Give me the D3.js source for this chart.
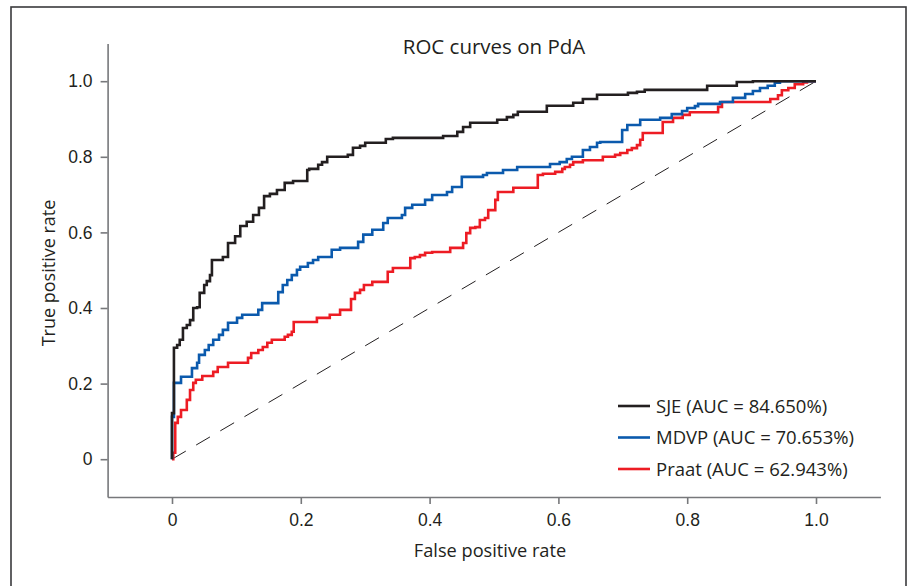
<!DOCTYPE html>
<html>
<head>
<meta charset="utf-8">
<script src="https://cdn.jsdelivr.net/npm/d3@7"></script>
<style>
  body { margin: 0; background: #fff; }
  svg { display: block; font-family: "Open Sans", "Noto Sans", sans-serif; }
  .axis path, .axis line { stroke: #77787b; stroke-width: 1.6px; }
  .axis text { fill: #231f20; font-size: 17.5px; }
</style>
</head>
<body>
<svg id="chart" width="909" height="586"></svg>
<script>
// ROC points [false positive rate, true positive rate]
var sjePoints = [
  [0, 0], [0, 0.122], [0.003, 0.295], [0.008, 0.302], [0.012, 0.316], [0.017, 0.347],
  [0.023, 0.355], [0.028, 0.368], [0.033, 0.400], [0.039, 0.402], [0.043, 0.440],
  [0.050, 0.461], [0.054, 0.471], [0.059, 0.487], [0.062, 0.527], [0.079, 0.535],
  [0.087, 0.572], [0.098, 0.590], [0.106, 0.617], [0.116, 0.628], [0.126, 0.646],
  [0.135, 0.665], [0.143, 0.696], [0.152, 0.702], [0.163, 0.712], [0.175, 0.731],
  [0.188, 0.736], [0.210, 0.765], [0.213, 0.768], [0.227, 0.779], [0.233, 0.786],
  [0.241, 0.800], [0.273, 0.805], [0.281, 0.824], [0.292, 0.829], [0.300, 0.837],
  [0.332, 0.847], [0.343, 0.850], [0.421, 0.855], [0.443, 0.866], [0.452, 0.879],
  [0.463, 0.890], [0.505, 0.898], [0.520, 0.905], [0.530, 0.911], [0.537, 0.919],
  [0.582, 0.935], [0.623, 0.943], [0.638, 0.953], [0.660, 0.964], [0.708, 0.969],
  [0.722, 0.972], [0.734, 0.977], [0.831, 0.988], [0.877, 0.998], [0.902, 1], [1, 1]
];

var mdvpPoints = [
  [0, 0], [0, 0.112], [0.003, 0.202], [0.014, 0.218], [0.031, 0.241], [0.039, 0.255],
  [0.042, 0.276], [0.051, 0.289], [0.057, 0.302], [0.064, 0.316], [0.073, 0.329],
  [0.079, 0.342], [0.087, 0.361], [0.101, 0.374], [0.109, 0.382], [0.134, 0.395],
  [0.140, 0.413], [0.165, 0.442], [0.172, 0.461], [0.179, 0.474], [0.186, 0.487],
  [0.194, 0.501], [0.199, 0.509], [0.211, 0.519], [0.219, 0.527], [0.227, 0.535],
  [0.248, 0.554], [0.261, 0.559], [0.289, 0.575], [0.297, 0.594], [0.311, 0.607],
  [0.328, 0.625], [0.335, 0.638], [0.357, 0.646], [0.362, 0.665], [0.373, 0.673],
  [0.393, 0.686], [0.404, 0.699], [0.427, 0.707], [0.435, 0.720], [0.450, 0.747],
  [0.483, 0.752], [0.489, 0.757], [0.514, 0.765], [0.536, 0.773], [0.587, 0.781],
  [0.602, 0.786], [0.613, 0.794], [0.621, 0.800], [0.638, 0.818], [0.649, 0.826],
  [0.660, 0.837], [0.665, 0.839], [0.699, 0.871], [0.707, 0.884], [0.727, 0.898],
  [0.758, 0.903], [0.776, 0.913], [0.792, 0.921], [0.800, 0.929], [0.812, 0.934],
  [0.817, 0.940], [0.851, 0.945], [0.871, 0.956], [0.890, 0.966], [0.902, 0.974],
  [0.913, 0.982], [0.925, 0.988], [0.936, 0.996], [0.944, 1], [1, 1]
];

var praatPoints = [
  [0, 0], [0.002, 0.017], [0.005, 0.096], [0.009, 0.112], [0.014, 0.130], [0.023, 0.157],
  [0.028, 0.183], [0.033, 0.202], [0.037, 0.210], [0.047, 0.220], [0.064, 0.231],
  [0.071, 0.244], [0.087, 0.255], [0.118, 0.268], [0.123, 0.281], [0.134, 0.289],
  [0.141, 0.297], [0.148, 0.308], [0.155, 0.316], [0.175, 0.324], [0.180, 0.329],
  [0.186, 0.337], [0.189, 0.363], [0.225, 0.374], [0.245, 0.382], [0.261, 0.395],
  [0.278, 0.424], [0.284, 0.440], [0.292, 0.448], [0.298, 0.461], [0.311, 0.469],
  [0.335, 0.496], [0.343, 0.506], [0.370, 0.532], [0.377, 0.535], [0.385, 0.540],
  [0.393, 0.546], [0.404, 0.548], [0.432, 0.559], [0.452, 0.572], [0.457, 0.598],
  [0.463, 0.612], [0.471, 0.614], [0.478, 0.633], [0.486, 0.638], [0.491, 0.659],
  [0.502, 0.686], [0.506, 0.707], [0.530, 0.718], [0.568, 0.752], [0.576, 0.755],
  [0.595, 0.760], [0.606, 0.768], [0.610, 0.773], [0.618, 0.779], [0.623, 0.786],
  [0.638, 0.791], [0.669, 0.800], [0.688, 0.805], [0.696, 0.810], [0.707, 0.818],
  [0.714, 0.823], [0.722, 0.831], [0.727, 0.845], [0.731, 0.863], [0.762, 0.892],
  [0.778, 0.903], [0.793, 0.911], [0.804, 0.918], [0.848, 0.932], [0.854, 0.945],
  [0.929, 0.953], [0.941, 0.963], [0.947, 0.976], [0.957, 0.982], [0.967, 0.992],
  [0.980, 0.997], [0.986, 1], [1, 1]
];

var chanceLine = [[0, 0], [1, 1]];

var seriesNames = ['SJE', 'MDVP', 'Praat'];
var seriesAuc = ['84.650%', '70.653%', '62.943%'];
var seriesColors = ['#231f20', '#0b5aad', '#ed1c24'];
var tickValues = [0, 0.2, 0.4, 0.6, 0.8, 1.0];
var tickLabels = ['0', '0.2', '0.4', '0.6', '0.8', '1.0'];

var svg = d3.select('#chart');

// outer frame, its bottom edge runs off the picture
svg.append('rect')
  .attr('x', 11).attr('y', 7)
  .attr('width', 895).attr('height', 600)
  .attr('fill', 'none')
  .attr('stroke', '#3a3a3c')
  .attr('stroke-width', 1.6);

var x = d3.scaleLinear().domain([-0.1, 1.1]).range([107.6, 880.4]);
var y = d3.scaleLinear().domain([-0.1, 1.1]).range([497, 43.4]);

var fmt = function(d) { return tickLabels[tickValues.indexOf(d)]; };

svg.append('g')
  .attr('class', 'axis')
  .attr('transform', 'translate(0,497)')
  .call(d3.axisBottom(x).tickValues(tickValues).tickFormat(fmt).tickSize(7).tickSizeOuter(0).tickPadding(10));

svg.append('g')
  .attr('class', 'axis')
  .attr('transform', 'translate(107.6,0)')
  .call(d3.axisLeft(y).tickValues(tickValues).tickFormat(fmt).tickSize(7).tickSizeOuter(0).tickPadding(8));

// chance diagonal
svg.append('path')
  .datum(chanceLine)
  .attr('fill', 'none')
  .attr('stroke', '#231f20')
  .attr('stroke-width', 1)
  .attr('stroke-dasharray', '16,12')
  .attr('d', d3.line().x(function(d) { return x(d[0]); }).y(function(d) { return y(d[1]); }));

var step = d3.line()
  .x(function(d) { return x(d[0]); })
  .y(function(d) { return y(d[1]); })
  .curve(d3.curveStepAfter);

// draw Praat first so the others sit on top
var allSeries = [sjePoints, mdvpPoints, praatPoints];
[2, 1, 0].forEach(function(i) {
  svg.append('path')
    .datum(allSeries[i])
    .attr('fill', 'none')
    .attr('stroke', seriesColors[i])
    .attr('stroke-width', 2.6)
    .attr('stroke-linejoin', 'miter')
    .attr('d', step);
});

// titles
svg.append('text')
  .attr('x', 494).attr('y', 54)
  .attr('text-anchor', 'middle')
  .attr('font-size', 20.5)
  .attr('fill', '#231f20')
  .text('ROC curves on PdA');

svg.append('text')
  .attr('x', 490).attr('y', 557)
  .attr('text-anchor', 'middle')
  .attr('font-size', 18.2)
  .attr('fill', '#231f20')
  .text('False positive rate');

svg.append('text')
  .attr('transform', 'translate(55,273) rotate(-90)')
  .attr('text-anchor', 'middle')
  .attr('font-size', 18)
  .attr('fill', '#231f20')
  .text('True positive rate');

// legend
var legend = svg.append('g').attr('transform', 'translate(618,406)');
seriesNames.forEach(function(name, i) {
  var row = legend.append('g').attr('transform', 'translate(0,' + (i * 31.5) + ')');
  row.append('line')
    .attr('x1', 0).attr('x2', 32)
    .attr('stroke', seriesColors[i])
    .attr('stroke-width', 2.6);
  row.append('text')
    .attr('x', 38).attr('y', 6.5)
    .attr('font-size', 18.5)
    .attr('fill', '#231f20')
    .text(name + ' (AUC = ' + seriesAuc[i] + ')');
});
</script>
</body>
</html>
